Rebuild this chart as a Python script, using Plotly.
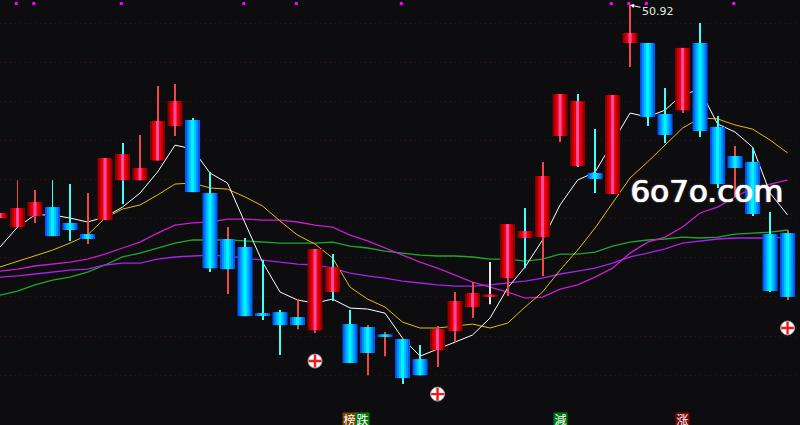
import plotly.graph_objects as go

#candle values, one per trading day
opens = [40.03,39.57,40.13,40.59,39.78,39.21,39.93,41.97,41.97,42.98,44.74,45.04,41.31,38.96,38.55,35.17,35.22,34.97,34.30,36.25,
         34.61,34.46,34.05,33.84,32.82,33.28,34.25,35.48,36.04,36.96,39.01,39.06,44.23,42.69,42.33,41.26,48.98,48.98,45.35,45.55,
         48.98,44.69,43.20,42.90,39.21,39.26]
closes = [40.29,40.54,40.85,39.11,39.42,38.96,43.10,43.30,42.59,44.99,46.01,41.36,37.47,37.42,35.02,35.07,34.56,34.56,38.45,37.53,
          32.62,33.13,34.00,31.85,32.00,34.35,35.79,36.20,36.10,39.72,39.37,42.18,46.37,46.01,42.03,46.32,49.49,45.20,44.28,48.73,
          44.48,41.77,42.59,40.24,36.30,36.00]
highs = [40.29,41.97,41.46,41.97,41.77,41.31,43.10,43.87,44.28,46.78,46.88,45.15,42.38,39.57,39.01,37.88,35.33,35.89,38.45,38.19,
         35.33,34.56,34.20,33.84,33.54,34.51,36.25,36.76,37.78,39.72,40.54,42.90,46.37,46.37,44.58,46.32,50.92,48.98,46.68,48.73,
         50.00,45.25,43.71,43.61,40.34,39.42]
lows = [40.03,39.57,39.78,39.11,38.86,38.70,39.93,40.75,41.97,42.98,44.23,41.36,37.27,36.15,35.02,34.82,33.03,34.35,34.15,35.79,
        32.62,32.00,32.97,31.54,32.00,32.41,33.69,34.92,35.63,36.04,37.47,37.07,43.92,42.64,41.31,41.26,47.75,44.74,43.87,45.40,
        44.17,41.57,41.11,40.13,36.25,35.84]
#wick colour does not always follow the body: r red, c cyan, w white
wick_kinds = list("rrrccrrcrr" "rccrcccrrc" "crrccrrrwr" "crrccrrccr" "ccrccr")

#moving averages
ma5 = [38.55,39.57,40.19,40.19,40.03,39.83,40.08,40.59,41.31,42.38,43.76,43.56,42.33,41.82,39.78,37.78,36.25,35.84,35.68,35.89,
       35.43,35.38,35.17,33.89,32.97,33.33,33.69,34.05,34.92,36.45,37.53,38.91,40.70,41.97,42.38,43.87,45.40,45.20,45.55,46.37,
       46.58,44.84,44.43,43.66,41.31,40.19]
ma10 = [37.53,37.83,38.09,38.39,38.75,39.16,40.03,40.49,40.70,41.21,41.77,41.82,41.57,41.51,41.11,40.65,39.88,39.16,38.70,37.99,
        36.50,35.89,35.48,34.71,34.41,34.41,34.51,34.61,34.41,34.66,35.48,36.25,37.37,38.39,39.52,40.80,42.08,42.90,43.76,44.63,
        45.15,45.10,44.79,44.58,44.02,43.36]
ma20 = [37.32,37.42,37.58,37.68,37.78,37.93,38.19,38.50,38.80,39.26,39.67,39.78,39.83,39.98,39.98,39.93,39.93,39.83,39.67,39.57,
        39.16,38.86,38.50,38.14,37.78,37.47,37.12,36.76,36.50,36.25,35.94,35.99,36.40,36.61,37.01,37.47,38.24,38.80,39.06,39.57,
        40.29,40.59,41.11,41.57,41.77,41.97]
ma30 = [37.01,37.07,37.17,37.27,37.37,37.42,37.63,37.73,37.73,37.93,38.04,38.09,38.14,38.09,37.99,37.88,37.78,37.68,37.63,37.47,
        37.22,37.07,36.96,36.81,36.71,36.61,36.55,36.55,36.61,36.71,36.81,36.96,37.17,37.32,37.47,37.73,38.04,38.24,38.45,38.75,
        38.86,38.96,39.01,39.01,39.01,39.06]
ma60 = [36.09,36.30,36.61,36.86,37.01,37.27,37.63,38.04,38.24,38.50,38.75,38.91,38.91,38.91,38.86,38.80,38.75,38.75,38.75,38.80,
        38.60,38.50,38.34,38.24,38.14,38.09,38.09,38.04,37.93,37.93,37.83,37.93,38.19,38.19,38.29,38.60,38.80,38.91,38.96,39.06,
        39.01,39.06,39.21,39.26,39.31,39.42]

#signals
square_days = [1,2,7,14,17,23,35,36,37,42]
square_level = 51.0
plus_days = [18,25,45]
plus_prices = [32.72,31.03,34.41]
grid_prices = [50,48,46,44,42,40,38,36,34,32]

days = list(range(len(opens)))
BG = "#0d0d10"

fig = go.Figure()

#lines first, on the lower axes, so the candles cover them
for values, color, width in [(ma60,"#1fa82c",1.3),(ma30,"#a822ea",1.3),(ma20,"#c81ed0",1.3),
                             (ma10,"#e6bc10",1),(ma5,"#ffffff",1)]:
    fig.add_trace(go.Scatter(x=days, y=values, mode="lines", line=dict(color=color, width=width)))

#wicks as one pixel bars, bars snap to whole pixels so they stay sharp
wick_colors = {"r":"#f04848","c":"#40ffff","w":"#e8e8e8"}
fig.add_trace(go.Bar(x=days, y=[highs[d]-lows[d] for d in days], base=lows, width=1/17.5,
                     marker=dict(color=[wick_colors[k] for k in wick_kinds], line=dict(width=0)),
                     xaxis="x2", yaxis="y2"))

#bodies, stacked bars getting narrower to make the stripes
red_days = [d for d in days if closes[d] >= opens[d]]
blue_days = [d for d in days if closes[d] < opens[d]]
red_layers = [(0.857,"#8c0000"),(0.63,"#c40000"),(0.40,"#f4000c"),(0.17,"#ff4da6")]
blue_layers = [(0.857,"#0058f8"),(0.63,"#0090ff"),(0.40,"#00c4ff"),(0.17,"#00f4ff")]
for group, layers in [(red_days,red_layers),(blue_days,blue_layers)]:
    for w, color in layers:
        fig.add_trace(go.Bar(
            x=group,
            y=[max(abs(closes[d]-opens[d]),0.08) for d in group],
            base=[min(opens[d],closes[d]) for d in group],
            width=w, marker=dict(color=color, line=dict(width=0)),
            xaxis="x2", yaxis="y2"))

#squares sit a pixel left of the candle centre
fig.add_trace(go.Scatter(x=[d-0.07 for d in square_days], y=[square_level]*len(square_days), mode="markers",
                         marker=dict(symbol="square", size=3, color="#ff00ff"), xaxis="x2", yaxis="y2"))
fig.add_trace(go.Scatter(x=plus_days, y=plus_prices, mode="markers",
                         marker=dict(symbol="circle", size=14, color="#ffffff", line=dict(color="#999999", width=1)),
                         xaxis="x2", yaxis="y2"))
fig.add_trace(go.Scatter(x=plus_days, y=plus_prices, mode="markers",
                         marker=dict(symbol="cross-thin", size=9, line=dict(color="#f01818", width=2.4)),
                         xaxis="x2", yaxis="y2"))

x_range = [0,45.71]
y_range = [29.45,51.18]
fig.update_layout(
    width=800, height=425, margin=dict(l=0,r=0,t=0,b=0),
    paper_bgcolor=BG, plot_bgcolor=BG, showlegend=False, barmode="overlay",
    xaxis=dict(range=x_range, visible=False),
    yaxis=dict(range=y_range, showticklabels=False, ticks="", zeroline=False, showline=False,
               tickvals=grid_prices, showgrid=True, gridcolor="#4a0c0c", griddash="1px 4px", gridwidth=1),
    xaxis2=dict(range=x_range, visible=False, overlaying="x"),
    yaxis2=dict(range=y_range, visible=False, overlaying="y"),
)

#high price label
fig.add_annotation(x=36, y=50.92, text="50.92", showarrow=True, arrowcolor="#ffffff", arrowwidth=1,
                   arrowhead=2, arrowsize=0.8, ax=28, ay=6, font=dict(family="DejaVu Sans", size=11, color="#e8e8e8"))
#watermark
fig.add_annotation(xref="paper", yref="paper", x=706/800, y=1-191/425, xanchor="center", yanchor="middle",
                   text="6o7o.com", showarrow=False,
                   font=dict(family="DejaVu Sans", size=31, color="#ffffff", shadow="1px 0 0 #ffffff, 0 0 2px #999999"))
#bottom tags
for text, left, bg in [("榜",342,"#7a4200"),("跌",354.5,"#007a10"),("減",553,"#007a10"),("涨",675,"#7a0808")]:
    fig.add_annotation(xref="paper", yref="paper", x=left/800, y=1-412/425, xanchor="left", yanchor="top",
                       text=text, showarrow=False, bgcolor=bg, borderpad=0, width=13, height=13,
                       font=dict(family="Noto Sans CJK SC", size=12, color="#ffffff"))

#page body has a default margin, take it off so the chart fills the window
fig.write_html("out.html", config={"displayModeBar":False},
               post_script="document.body.style.margin='0';document.body.style.background='#0d0d10';")
